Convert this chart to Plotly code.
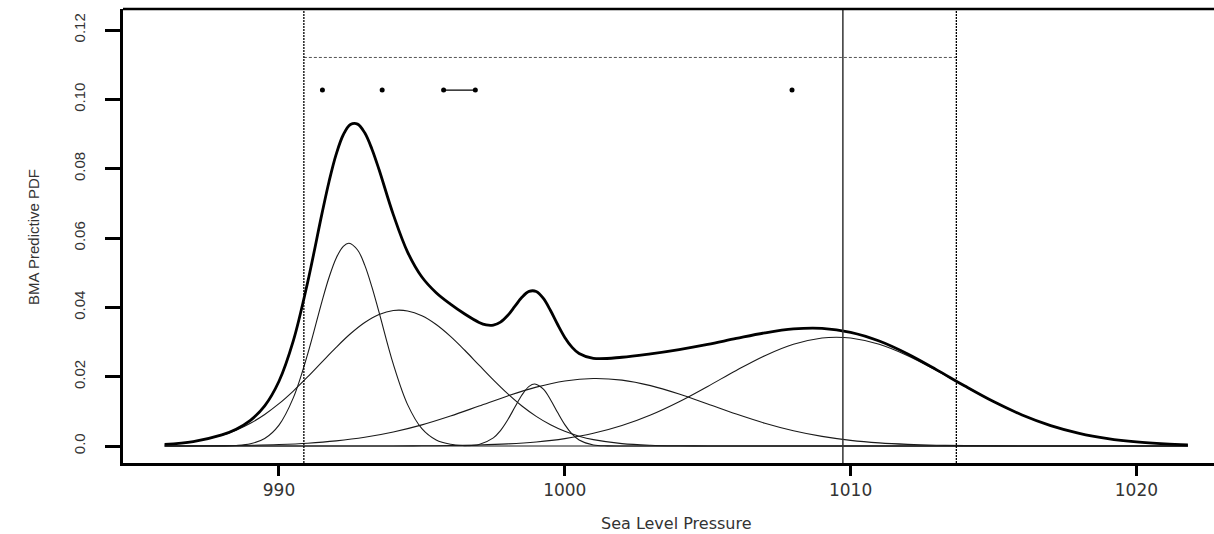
import plotly.graph_objects as go

# ---------------- data ----------------
# BMA mixture (thick) curve
bma_x = [986, 987, 988, 988.5, 989, 989.5, 990, 990.5, 991, 991.5, 991.75, 992, 992.25,
         992.5, 992.75, 993, 993.25, 993.5, 994, 994.5, 995, 995.5, 996, 996.5, 997,
         997.25, 997.5, 997.75, 998, 998.25, 998.5, 998.75, 999, 999.25, 999.5, 999.75,
         1000, 1000.25, 1000.5, 1001, 1002, 1003, 1004, 1005, 1006, 1007, 1008, 1009, 1010,
         1011, 1012, 1013, 1014, 1015, 1016, 1017, 1018, 1019, 1020, 1021, 1021.8]
bma_y = [0.00048, 0.0013, 0.00321, 0.00485, 0.00741, 0.01158, 0.01868, 0.03033, 0.04714,
         0.0669, 0.07625, 0.08413, 0.0898, 0.09275, 0.09287, 0.09035, 0.0857, 0.07976,
         0.06676, 0.05594, 0.04875, 0.04422, 0.04093, 0.03808, 0.03565, 0.03492, 0.03488,
         0.03575, 0.03764, 0.04027, 0.04291, 0.0446, 0.04458, 0.04257, 0.03909, 0.03505,
         0.03134, 0.02853, 0.0267, 0.0253, 0.02561, 0.02659, 0.02783, 0.02931, 0.03102,
         0.03264, 0.03377, 0.03393, 0.0328, 0.03028, 0.02655, 0.02204, 0.01729, 0.01281,
         0.00896, 0.0059, 0.00366, 0.00214, 0.00118, 0.00061, 0.00035]

# weighted member PDFs (thin curves)
m1_x = [986, 987, 988, 988.5, 989, 989.5, 990, 990.5, 991, 991.5, 991.75, 992, 992.25,
        992.45, 992.75, 993, 993.25, 993.5, 994, 994.5, 995, 995.5, 996, 996.5, 997, 998,
        1021.8]
m1_y = [0, 0, 0.00003, 0.00016, 0.00065, 0.00218, 0.00605, 0.01389, 0.02642, 0.0416,
        0.04861, 0.0542, 0.05762, 0.0585, 0.05655, 0.0522, 0.04592, 0.0386, 0.0236, 0.01194,
        0.00501, 0.00174, 0.0005, 0.00012, 0.00002, 0, 0]

m2_x = [986, 987, 988, 988.5, 989, 989.5, 990, 990.5, 991, 991.5, 992, 992.5, 993, 993.5,
        994, 994.5, 995, 995.5, 996, 996.5, 997, 997.5, 998, 998.5, 999, 999.5, 1000,
        1000.5, 1001, 1002, 1003, 1004, 1005, 1006, 1021.8]
m2_y = [0.00046, 0.00127, 0.00309, 0.00457, 0.00656, 0.0091, 0.01221, 0.01586, 0.01992,
        0.02421, 0.02846, 0.03238, 0.03564, 0.03795, 0.0391, 0.03897, 0.03758, 0.03506,
        0.03164, 0.02763, 0.02334, 0.01908, 0.01509, 0.01154, 0.00855, 0.00612, 0.00424,
        0.00284, 0.00184, 0.0007, 0.00023, 0.00007, 0.00002, 0, 0]

m3_x = [986, 995, 996, 996.5, 997, 997.5, 997.75, 998, 998.25, 998.5, 998.75, 998.95,
        999.25, 999.5, 999.75, 1000, 1000.25, 1000.5, 1001, 1001.5, 1002, 1003, 1021.8]
m3_y = [0, 0, 0, 0.00005, 0.00046, 0.00236, 0.00446, 0.0075, 0.01116, 0.01472, 0.01722,
        0.0179, 0.01641, 0.01337, 0.00966, 0.00618, 0.00351, 0.00176, 0.00031, 0.00003, 0,
        0, 0]

m4_x = [986, 988, 989, 990, 991, 992, 993, 994, 995, 996, 997, 998, 999, 1000, 1001, 1002,
        1003, 1004, 1005, 1006, 1007, 1008, 1009, 1010, 1011, 1012, 1013, 1014, 1016, 1018,
        1021.8]
m4_y = [0.00002, 0.00009, 0.0002, 0.00042, 0.0008, 0.00147, 0.00251, 0.00404, 0.0061,
        0.00865, 0.01153, 0.01444, 0.01699, 0.01878, 0.01949, 0.01901, 0.01742, 0.01499,
        0.01212, 0.00921, 0.00657, 0.0044, 0.00277, 0.00164, 0.00091, 0.00048, 0.00023,
        0.0001, 0.00002, 0, 0]

m5_x = [986, 992, 994, 995, 996, 997, 998, 999, 1000, 1001, 1002, 1003, 1004, 1005, 1006,
        1007, 1008, 1009, 1009.5, 1010, 1011, 1012, 1013, 1014, 1015, 1016, 1017, 1018,
        1019, 1020, 1021, 1021.8]
m5_y = [0, 0, 0.00002, 0.00006, 0.00014, 0.0003, 0.00061, 0.00118, 0.00214, 0.00366, 0.0059,
        0.00894, 0.01277, 0.01719, 0.02181, 0.02607, 0.02937, 0.03116, 0.0314, 0.03116,
        0.02937, 0.02607, 0.02181, 0.01719, 0.01277, 0.00894, 0.0059, 0.00366, 0.00214,
        0.00118, 0.00061, 0.00035]

# interval bounds, verifying observation, interval level line
interval_bounds = [990.87, 1013.70]
interval_level = [0.1121]
observation = [1009.73]

# ensemble member forecasts (dots) and the joined pair
member_x = [991.52, 993.61, 995.76, 996.87, 1007.95]
member_level = [0.1027]
joined_pair = [995.76, 996.87]

# ticks
x_tickvals = [990, 1000, 1010, 1020]
x_ticktext = ["990", "1000", "1010", "1020"]
y_tickvals = [0.0, 0.02, 0.04, 0.06, 0.08, 0.10, 0.12]
y_ticktext = ["0.0", "0.02", "0.04", "0.06", "0.08", "0.10", "0.12"]

x_title = "Sea Level Pressure"
y_title = "BMA Predictive PDF"

# ---------------- figure ----------------
fig = go.Figure()

for xs, ys in [(m1_x, m1_y), (m2_x, m2_y), (m3_x, m3_y), (m4_x, m4_y), (m5_x, m5_y)]:
    fig.add_trace(go.Scatter(x=xs, y=ys, mode="lines",
                             line=dict(color="#1a1a1a", width=1.1, shape="spline", smoothing=1.0),
                             hoverinfo="skip"))

fig.add_trace(go.Scatter(x=bma_x, y=bma_y, mode="lines",
                         line=dict(color="#000000", width=2.8, shape="spline", smoothing=1.0)))

# interval level dashed line
fig.add_trace(go.Scatter(x=interval_bounds, y=interval_level * 2, mode="lines",
                         line=dict(color="#555555", width=1, dash="3px,2px")))

# ensemble members
fig.add_trace(go.Scatter(x=joined_pair, y=member_level * 2, mode="lines",
                         line=dict(color="#000000", width=1.2)))
fig.add_trace(go.Scatter(x=member_x, y=member_level * len(member_x), mode="markers",
                         marker=dict(color="#000000", size=5)))

shapes = []
for b in interval_bounds:
    shapes.append(dict(type="line", xref="x", yref="paper", x0=b, x1=b, y0=0, y1=1,
                       line=dict(color="#000000", width=1.3, dash="2px,1px")))
for o in observation:
    shapes.append(dict(type="line", xref="x", yref="paper", x0=o, x1=o, y0=0, y1=1,
                       line=dict(color="#333333", width=1.5)))
# top frame line
shapes.append(dict(type="line", xref="paper", yref="paper", x0=0, x1=1, y0=1, y1=1,
                   line=dict(color="#000000", width=2.5)))

fig.update_layout(
    width=1214, height=534,
    margin=dict(l=123, r=0, t=9, b=71),
    plot_bgcolor="white", paper_bgcolor="white",
    showlegend=False,
    shapes=shapes,
    xaxis=dict(range=[984.542, 1022.715], tickvals=x_tickvals, ticktext=x_ticktext,
               ticks="outside", ticklen=10, tickwidth=2.5, tickcolor="#000000",
               showline=True, linewidth=2.5, linecolor="#000000",
               showgrid=False, zeroline=False,
               tickfont=dict(family="DejaVu Sans", size=17, color="#333333")),
    yaxis=dict(range=[-0.0049, 0.12608], tickvals=y_tickvals, ticktext=y_ticktext,
               ticks="outside", ticklen=15, tickwidth=2.5, tickcolor="#000000",
               showline=True, linewidth=2.5, linecolor="#000000",
               showgrid=False, zeroline=False, tickangle=-90, ticklabelstandoff=14,
               tickfont=dict(family="Liberation Sans", size=15, color="#333333")),
    annotations=[
        dict(text=x_title, xref="paper", yref="paper", x=0.5069, y=-0.134,
             xanchor="center", yanchor="middle", showarrow=False,
             font=dict(family="DejaVu Sans", size=16, color="#333333")),
        dict(text=y_title, xref="paper", yref="paper", x=-0.0816, y=0.498,
             xanchor="center", yanchor="middle", showarrow=False, textangle=-90,
             font=dict(family="Liberation Sans", size=15, color="#333333")),
    ],
)

fig.write_html("out.html")
